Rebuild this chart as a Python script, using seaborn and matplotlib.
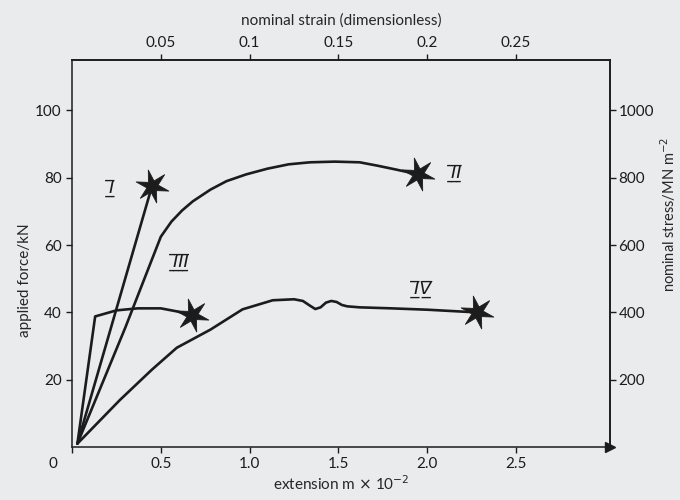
import numpy as np
import pandas as pd
import seaborn as sns
import matplotlib.pyplot as plt
from matplotlib.path import Path
from matplotlib.transforms import ScaledTranslation

# extension (m x 1e-2) and applied force (kN)
ext_I = [0.03, 0.45]
force_I = [1.0, 77.5]

ext_II = [0.03, 0.30, 0.50, 0.56, 0.62, 0.68, 0.78, 0.87, 0.98, 1.10, 1.22, 1.34, 1.48, 1.62, 1.72, 1.82, 1.95]
force_II = [1.0, 35.5, 62.5, 67.0, 70.3, 73.0, 76.5, 79.0, 81.0, 82.7, 84.0, 84.6, 84.8, 84.6, 83.6, 82.5, 81.0]

ext_III = [0.03, 0.13, 0.25, 0.37, 0.50, 0.59, 0.675]
force_III = [1.0, 38.8, 40.6, 41.2, 41.2, 40.3, 39.1]

ext_IV = [0.03, 0.27, 0.45, 0.59, 0.78, 0.96, 1.13, 1.25, 1.30, 1.34, 1.37, 1.40, 1.43, 1.46, 1.49, 1.52, 1.55, 1.62, 1.80, 2.00, 2.28]
force_IV = [1.0, 14.0, 23.0, 29.5, 34.9, 40.9, 43.6, 43.9, 43.4, 42.0, 41.0, 41.5, 42.9, 43.4, 43.1, 42.2, 41.8, 41.5, 41.2, 40.8, 40.0]

curve_names = ['I', 'II', 'III', 'IV']
label_ext = [0.23, 2.17, 0.62, 1.98]
label_force = [77.0, 81.5, 55.0, 47.0]

x_ticks = [0, 0.5, 1.0, 1.5, 2.0, 2.5]
x_labels = ['0', '0.5', '1.0', '1.5', '2.0', '2.5']
y_ticks = [20, 40, 60, 80, 100]
strain_ticks = [0.05, 0.1, 0.15, 0.2, 0.25]
strain_labels = ['0.05', '0.1', '0.15', '0.2', '0.25']
stress_ticks = [200, 400, 600, 800, 1000]

frames = []
for name, e, f in zip(curve_names, [ext_I, ext_II, ext_III, ext_IV],
                      [force_I, force_II, force_III, force_IV]):
    frames.append(pd.DataFrame({'extension': e, 'force': f, 'curve': name}))
df = pd.concat(frames, ignore_index=True)
ends = df.groupby('curve', sort=False).tail(1)

bg = '#eaebed'
ink = '#1c1c1c'

sns.set_theme(style='ticks')
plt.rcParams['font.family'] = ['Lato', 'DejaVu Sans']
plt.rcParams['axes.edgecolor'] = ink
plt.rcParams['xtick.color'] = ink
plt.rcParams['ytick.color'] = ink
plt.rcParams['text.color'] = ink

fig = plt.figure(figsize=(6.8, 5.0), dpi=100, facecolor=bg)
ax = fig.add_axes([0.106, 0.106, 0.791, 0.774])
ax.set_facecolor(bg)

sns.lineplot(data=df, x='extension', y='force', units='curve', estimator=None,
             sort=False, color=ink, lw=1.9, ax=ax)

# six-armed star for the fracture points
ang = np.linspace(0, 2 * np.pi, 13)[:-1] + np.pi / 2 + 0.25
rad = np.where(np.arange(12) % 2 == 0, 1.0, 0.34)
star = Path(np.column_stack([rad * np.cos(ang), rad * np.sin(ang)]).tolist()
            + [[rad[0] * np.cos(ang[0]), rad[0] * np.sin(ang[0])]], closed=True)
sns.scatterplot(data=ends, x='extension', y='force', marker=star, s=560,
                color=ink, edgecolor=ink, linewidth=0.6, ax=ax, zorder=3)

for name, xe, yf in zip(curve_names, label_ext, label_force):
    txt = ''.join(ch + '\u0305\u0332' for ch in name)
    ax.text(xe, yf, txt, ha='center', va='center', fontsize=13, style='italic',
            family='DejaVu Sans')

ax.set_xlim(0, 3.03)
ax.set_ylim(0, 115)
ax.set_xticks(x_ticks, labels=x_labels)
ax.set_yticks(y_ticks)
ax.tick_params(labelsize=11, length=4, width=1)
zero = ax.get_xticklabels()[0]
zero.set_transform(zero.get_transform() + ScaledTranslation(-0.19, 0, fig.dpi_scale_trans))
ax.set_xlabel(r'extension m $\times$ 10$^{-2}$', fontsize=11, labelpad=2)
ax.set_ylabel('applied force/kN', fontsize=11, labelpad=6)
ax.yaxis.set_label_coords(-0.075, 0.43)
for s in ax.spines.values():
    s.set_linewidth(1.1)
ax.plot(1, 0, '>', color=ink, ms=7, transform=ax.transAxes, clip_on=False)

top = ax.secondary_xaxis('top', functions=(lambda e: e / 10, lambda s: s * 10))
top.set_xticks(strain_ticks, labels=strain_labels)
top.tick_params(labelsize=11, length=4, width=1)
top.set_xlabel('nominal strain (dimensionless)', fontsize=11, labelpad=8)

right = ax.secondary_yaxis('right', functions=(lambda f: f * 10, lambda s: s / 10))
right.set_yticks(stress_ticks)
right.tick_params(labelsize=11, length=4, width=1, pad=2)
right.set_ylabel(r'nominal stress/MN m$^{-2}$', fontsize=10.5, labelpad=3, rotation=90)
right.yaxis.label.set_y(0.6)

fig.savefig('out.png', dpi=100, facecolor=bg)
